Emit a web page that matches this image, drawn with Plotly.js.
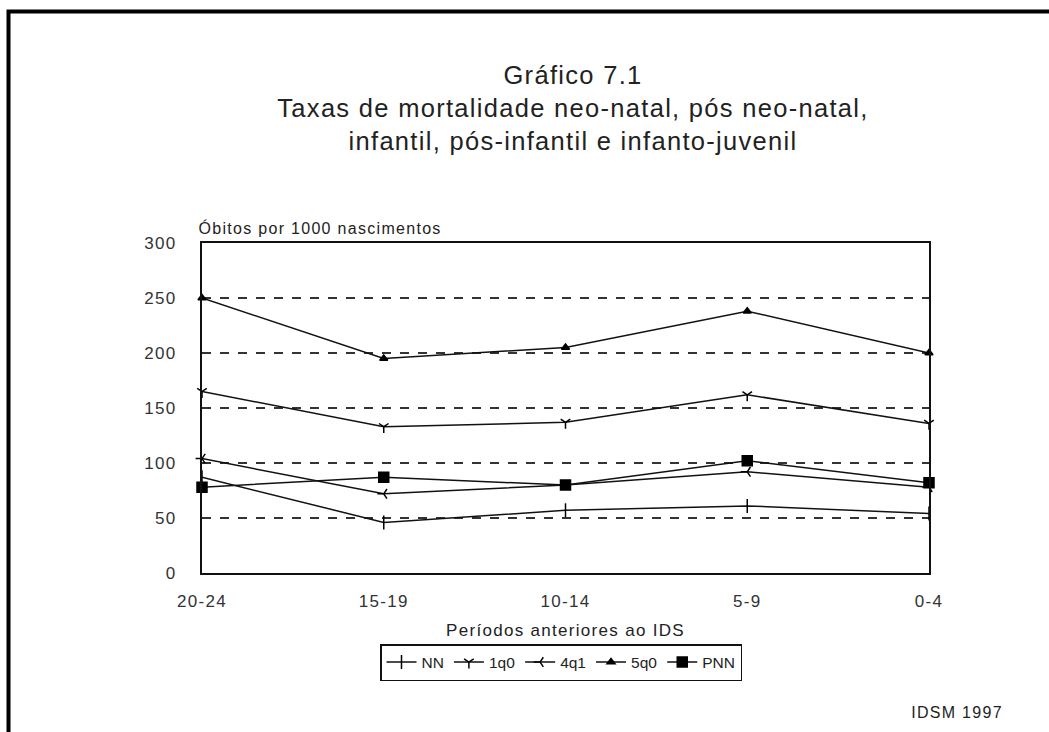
<!DOCTYPE html>
<html>
<head>
<meta charset="utf-8">
<script src="https://cdn.plot.ly/plotly-3.0.1.min.js"></script>
<style>
html,body{margin:0;padding:0;background:#fff;}
#chart{width:1049px;height:732px;}
#chart .gtitle, #chart .xtick text, #chart .ytick text, #chart .xtitle, #chart .annotation-text { letter-spacing: 1.3px; }
</style>
</head>
<body>
<div id="chart"></div>
<script>
const periods = ["20-24", "15-19", "10-14", "5-9", "0-4"];
const nn  = [87, 46, 57, 61, 54];
const q1  = [165, 133, 137, 162, 136];
const q41 = [104, 72, 80, 92, 78];
const q5  = [250, 195, 205, 238, 200];
const pnn = [78, 87, 80, 102, 82];

const seriesNames = ["NN", "1q0", "4q1", "5q0", "PNN"];
const seriesVals = [nn, q1, q41, q5, pnn];
const seriesSymbols = ["line-ns", "y-down-open", "y-left-open", "triangle-up", "square"];
const seriesSizes = [10, 8, 8, 7, 10];

const traces = seriesVals.map((v, i) => ({
  x: periods, y: v, name: seriesNames[i], type: "scatter", mode: "lines+markers",
  line: {color: "#111", width: 1.5},
  marker: {symbol: seriesSymbols[i], size: seriesSizes[i], color: "#000", line: {color: "#000", width: 1.5}},
  cliponaxis: false
}));

// plot area in page pixels
const L = 202, R = 929, T = 243, B = 573;
const px = x => (x - L) / (R - L);
const py = y => (B - y) / (B - T);

const layout = {
  width: 1049, height: 732,
  margin: {l: L, r: 1049 - R, t: T, b: 732 - B},
  paper_bgcolor: "#fff", plot_bgcolor: "#fff",
  font: {family: "Liberation Sans, Arial, sans-serif", color: "#222", size: 16},
  showlegend: true,
  title: {
    text: "Gráfico 7.1<br>Taxas de mortalidade neo-natal, pós neo-natal,<br>infantil, pós-infantil e infanto-juvenil",
    font: {size: 25.5, color: "#222", family: "Liberation Sans, Arial, sans-serif"},
    x: 573/1049, xanchor: "center", xref: "container", y: 1 - 84/732, yanchor: "top", yref: "container"
  },
  xaxis: {
    type: "category", range: [0, 4], showgrid: false, zeroline: false,
    showline: true, mirror: true, linecolor: "#111", linewidth: 2,
    ticks: "", tickfont: {size: 17, color: "#333"}, ticklabelstandoff: 12,
    title: {text: "Períodos anteriores ao IDS", font: {size: 17, color: "#222"}, standoff: 14}
  },
  yaxis: {
    range: [0, 300], dtick: 50, showgrid: true, gridcolor: "#333", griddash: "dash", gridwidth: 1.5,
    zeroline: false, showline: true, mirror: true, linecolor: "#111", linewidth: 2,
    ticks: "", tickfont: {size: 17, color: "#333"}, ticklabelstandoff: 20
  },
  legend: {
    orientation: "h", x: px(561), xref: "paper", xanchor: "center",
    y: 1 - 644/732, yref: "container", yanchor: "top",
    bordercolor: "#111", borderwidth: 1.5, font: {size: 15.5, color: "#222"},
    itemwidth: 30, tracegroupgap: 0
  },
  annotations: [
    {text: "Óbitos por 1000 nascimentos", xref: "paper", yref: "paper", x: 0, y: 1, xanchor: "left", yanchor: "bottom", yshift: 4, xshift: 12, showarrow: false, font: {size: 16, color: "#222"}},
    {text: "IDSM 1997", xref: "paper", yref: "paper", x: px(999), y: py(712), xanchor: "right", yanchor: "middle", showarrow: false, font: {size: 16, color: "#222"}}
  ],
  shapes: [
    {type: "rect", xref: "paper", yref: "paper", x0: px(8.5), x1: px(1060), y0: py(745), y1: py(11.5), line: {color: "#000", width: 4}}
  ]
};

Plotly.newPlot("chart", traces, layout, {displayModeBar: false, staticPlot: true});
</script>
</body>
</html>
